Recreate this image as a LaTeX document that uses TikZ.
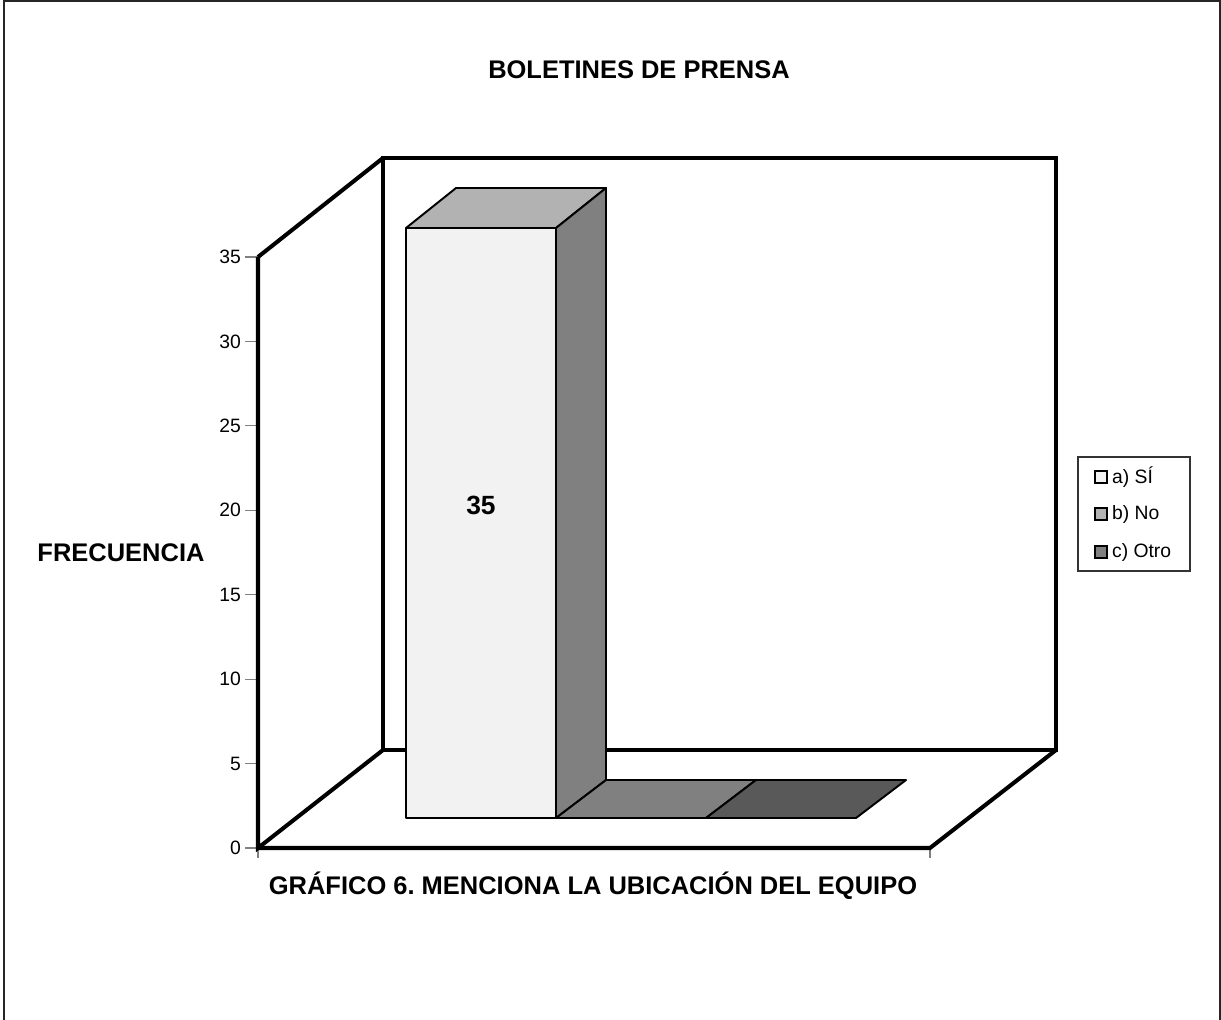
\documentclass[tikz,border=0pt]{standalone}
\usepackage{fontspec}
\setmainfont{Liberation Sans}
\usetikzlibrary{positioning}
\frenchspacing
\definecolor{faceA}{gray}{0.95}
\definecolor{topA}{gray}{0.70}
\definecolor{sideA}{gray}{0.50}
\definecolor{slabC}{gray}{0.35}
\tikzset{
wall/.style={line width=2.3pt, line join=miter}, % thick outline of the 3d box
barface/.style={draw, line width=1.1pt, line join=round}, % faces of the bars
tickmark/.style={gray, line width=0.7pt},
ticklabel/.style={anchor=east, inner sep=1pt, font=\fontsize{11}{13}\selectfont},
heading/.style={font=\fontsize{14.5}{17}\selectfont\bfseries},
legentry/.style={anchor=west, inner sep=1pt, font=\fontsize{11}{13}\selectfont},
}

\begin{document}
\begin{tikzpicture}[x=0.02cm, y=-0.02cm]
\useasboundingbox (0,0) rectangle (1221,1019);

% page frame
\draw[line width=1.2pt, black!85] (4,1030) -- (4,1) -- (1220,1) -- (1220,1030);

\node[heading] (title) at (639,70) {BOLETINES DE PRENSA};
\node[heading] (yname) at (121,553) {FRECUENCIA};
\node[heading] (xname) at (593,886) {GRÁFICO 6. MENCIONA LA UBICACIÓN DEL EQUIPO};

% corners of the box
\coordinate (btl) at (383,158);
\coordinate (btr) at (1056,158);
\coordinate (bbr) at (1056,750);
\coordinate (bbl) at (383,750);
\coordinate (ftl) at (258,257);
\coordinate (fbl) at (258,848);
\coordinate (fbr) at (930,848);

% ticks
\foreach \v in {0,5,...,35}{
  \draw[tickmark] (245,{848-\v*16.886}) -- (258,{848-\v*16.886});
  \node[ticklabel] (tick\v) at (243,{848-\v*16.886}) {\v};
}
\draw[tickmark] (fbl) -- ++(0,10);
\draw[tickmark] (fbr) -- ++(0,10);

\draw[wall] (btl) rectangle (bbr);
\draw[wall] (ftl) -- (btl);
\draw[wall] (ftl) -- (fbl) -- (bbl);
\draw[wall] (fbl) -- (fbr) -- (bbr);

% bar a) with value 35
\draw[barface, fill=faceA] (406,228) rectangle (556,818);
\draw[barface, fill=topA] (406,228) -- (556,228) -- (606,188) -- (456,188) -- cycle;
\draw[barface, fill=sideA] (556,228) -- (606,188) -- (606,780) -- (556,818) -- cycle;
\node[font=\fontsize{15}{17}\selectfont\bfseries] (valA) at (481,505) {35};

% bars b) and c), both zero
\draw[barface, fill=sideA] (556,818) -- (706,818) -- (756,780) -- (606,780) -- cycle;
\draw[barface, fill=slabC] (706,818) -- (856,818) -- (906,780) -- (756,780) -- cycle;

% legend
\draw[line width=0.7pt, black!80] (1078,457) rectangle (1190,571);
\draw[line width=1.1pt, fill=faceA] (1095,471) rectangle (1107,483);
\node[legentry] (lega) at (1110,477) {a) SÍ};
\draw[line width=1.1pt, fill=topA] (1095,508) rectangle (1107,520);
\node[legentry] (legb) at (1110,514) {b) No};
\draw[line width=1.1pt, fill=sideA] (1095,546) rectangle (1107,558);
\node[legentry] (legc) at (1110,552) {c) Otro};
\end{tikzpicture}
\end{document}
